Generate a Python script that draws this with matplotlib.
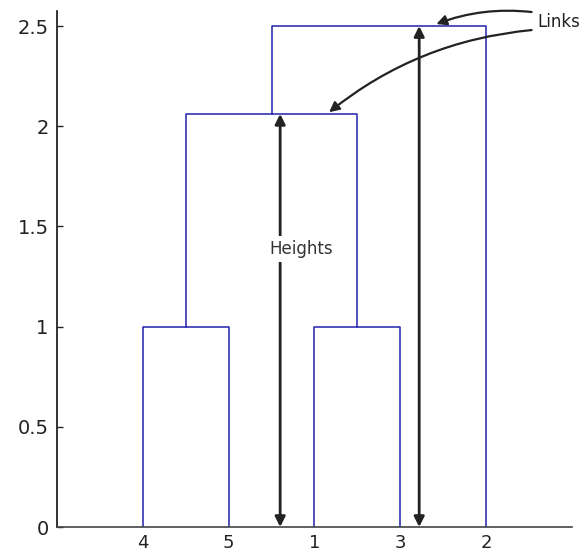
import matplotlib
matplotlib.use('Agg')
import matplotlib.pyplot as plt
from matplotlib.ticker import FormatStrFormatter

# linkage matrix (MATLAB style, 1-based): node a, node b, height
link_a = [4, 1, 6, 2]
link_b = [5, 3, 7, 8]
link_h = [1.0, 1.0, 2.0616, 2.5]
leaf_order = [4, 5, 1, 3, 2]
yticks = [0, 0.5, 1, 1.5, 2, 2.5]

n_leaves = len(leaf_order)
link_color = '#2222b0'
ann_color = '#222222'

fig = plt.figure(figsize=(5.84, 5.54), dpi=100)
ax = fig.add_axes([0.0976, 0.0487, 0.8818, 0.9314])

# node positions: leaves along x, merged nodes at their link height
xpos = {}
ypos = {}
for i, leaf in enumerate(leaf_order):
    xpos[leaf] = i + 1
    ypos[leaf] = 0.0
for k, (a, b, h) in enumerate(zip(link_a, link_b, link_h)):
    node = n_leaves + k + 1
    ax.plot([xpos[a], xpos[a], xpos[b], xpos[b]],
            [ypos[a], h, h, ypos[b]], color=link_color, lw=1.1)
    xpos[node] = (xpos[a] + xpos[b]) / 2.0
    ypos[node] = h

ax.set_xlim(0, n_leaves + 1)
ax.set_ylim(0, 2.575)
ax.set_xticks(range(1, n_leaves + 1))
ax.set_xticklabels([str(l) for l in leaf_order])
ax.set_yticks(yticks)
ax.yaxis.set_major_formatter(FormatStrFormatter('%g'))
ax.tick_params(axis='y', direction='in', length=4, width=1, pad=6,
               labelsize=14, colors='#222222')
ax.tick_params(axis='x', length=0, pad=5, labelsize=13, colors='#222222')

for s in ['top', 'right']:
    ax.spines[s].set_visible(False)
ax.spines['left'].set_color('#111111')
ax.spines['bottom'].set_color('#444444')
ax.spines['left'].set_linewidth(1.2)
ax.spines['bottom'].set_linewidth(1.2)

# height arrows
h_props = dict(arrowstyle='<|-|>', color=ann_color, lw=2,
               mutation_scale=15, shrinkA=0, shrinkB=0)
ax.annotate('', xy=(2.6, 0), xytext=(2.6, link_h[2]), arrowprops=h_props)
ax.annotate('', xy=(4.22, 0), xytext=(4.22, link_h[3]), arrowprops=h_props)
ax.text(2.84, 1.387, 'Heights', ha='center', va='center', fontsize=12,
        color='#333333',
        bbox=dict(facecolor='white', edgecolor='none', pad=3))

# links label with curved arrows
ax.text(5.6, 2.52, 'Links', ha='left', va='center', fontsize=12,
        color='#222222')
l_props = dict(arrowstyle='-|>', color=ann_color, lw=1.6,
               mutation_scale=15, shrinkA=0, shrinkB=0)
ax.annotate('', xy=(4.42, 2.51), xytext=(5.53, 2.57),
            arrowprops=dict(l_props, connectionstyle='arc3,rad=0.12'),
            annotation_clip=False)
ax.annotate('', xy=(3.17, 2.07), xytext=(5.53, 2.48),
            arrowprops=dict(l_props, connectionstyle='arc3,rad=0.15'),
            annotation_clip=False)

fig.savefig('out.png', dpi=100)
